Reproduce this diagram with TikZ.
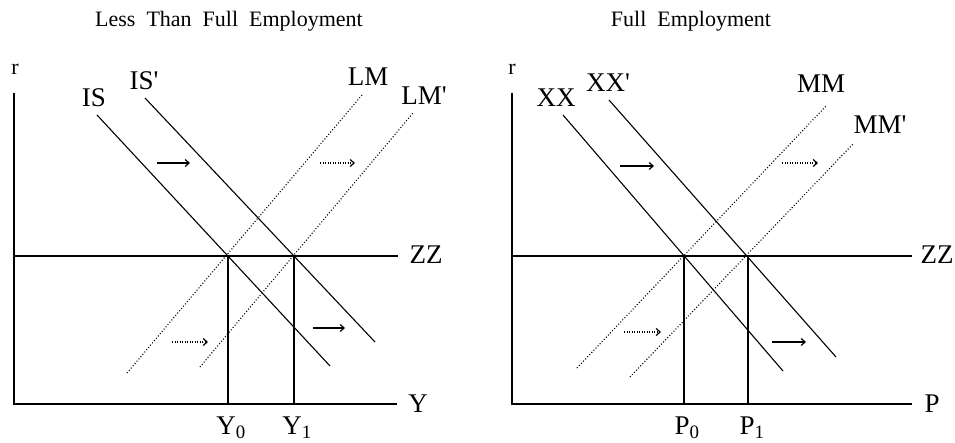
\documentclass[tikz,border=0pt]{standalone}
\usepackage{fontspec}
\setmainfont{Liberation Serif}
\usepackage{tikz}
\usetikzlibrary{arrows.meta}
\tikzset{
    axis/.style={line width=1.8pt, black},
    curve/.style={line width=1.1pt, black},
    shifted/.style={line width=1.1pt, black, dash pattern=on 1pt off 2pt},
    guide/.style={line width=1.8pt, black},
    move/.style={-{Straight Barb[length=4pt,width=7pt]}, line width=1.2pt},
    movedot/.style={move, dash pattern=on 1pt off 1.5pt},
    lbl/.style={font=\fontsize{27}{30}\selectfont, inner sep=0pt},
    heading/.style={font=\fontsize{22}{26}\selectfont, inner sep=0pt}
}

\begin{document}
\begin{tikzpicture}[x=1pt, y=-1pt]
  \useasboundingbox (0,0) rectangle (955,443);

  % Left panel: Less Than Full Employment
  \node[heading] (titleL) at (229,21) {Less\ \ Than\ \ Full\ \ Employment};
  \node[lbl, font=\fontsize{22}{24}\selectfont] (rL) at (15,69) {r};
  \coordinate (lTop) at (14,93);
  \coordinate (lO) at (14,404);
  \coordinate (lEnd) at (397,404);
  \coordinate (lZa) at (14,256);
  \coordinate (lZb) at (398,256);
  \node[lbl] (yL) at (418,404) {Y};
  \node[lbl] (zzL) at (426,255) {ZZ};
  \draw[axis] (lTop) -- (lO) -- (lEnd);
  \draw[guide] (lZa) -- (lZb);

  % equilibrium points and output levels
  \coordinate (eY0) at (228,256);
  \coordinate (eY1) at (294,256);
  \coordinate (bY0) at (228,404);
  \coordinate (bY1) at (294,404);
  \node[lbl] (y0) at (231,428) {Y\textsubscript{0}};
  \node[lbl] (y1) at (297,428) {Y\textsubscript{1}};
  \draw[guide] (eY0) -- (bY0);
  \draw[guide] (eY1) -- (bY1);

  % IS curves
  \coordinate (isA) at (97,115);
  \coordinate (isB) at (330,366);
  \coordinate (isPA) at (145,98);
  \coordinate (isPB) at (375,342);
  \node[lbl] (isL) at (94,98) {IS};
  \node[lbl] (isPL) at (144,81) {IS\textquotesingle};
  \draw[curve] (isA) -- (isB);
  \draw[curve] (isPA) -- (isPB);

  % LM curves
  \coordinate (lmA) at (127,373);
  \coordinate (lmB) at (362,95);
  \coordinate (lmPA) at (200,367);
  \coordinate (lmPB) at (413,113);
  \node[lbl] (lmL) at (368,77) {LM};
  \node[lbl] (lmPL) at (424,96) {LM\textquotesingle};
  \draw[shifted] (lmA) -- (lmB);
  \draw[shifted] (lmPA) -- (lmPB);

  % shift arrows
  \coordinate (sa1) at (157,163);
  \coordinate (sb1) at (190,163);
  \coordinate (sa2) at (313,328);
  \coordinate (sb2) at (345,328);
  \coordinate (da1) at (320,163);
  \coordinate (db1) at (355,163);
  \coordinate (da2) at (172,342);
  \coordinate (db2) at (208,342);
  \draw[move] (sa1) -- (sb1);
  \draw[move] (sa2) -- (sb2);
  \draw[movedot] (da1) -- (db1);
  \draw[movedot] (da2) -- (db2);

  % Right panel: Full Employment
  \node[heading] (titleR) at (691,21) {Full\ \ Employment};
  \node[lbl, font=\fontsize{22}{24}\selectfont] (rR) at (512,69) {r};
  \coordinate (rTop) at (512,93);
  \coordinate (rO) at (512,404);
  \coordinate (rEnd) at (912,404);
  \coordinate (rZa) at (512,256);
  \coordinate (rZb) at (912,256);
  \node[lbl] (pR) at (932,404) {P};
  \node[lbl] (zzR) at (937,255) {ZZ};
  \draw[axis] (rTop) -- (rO) -- (rEnd);
  \draw[guide] (rZa) -- (rZb);

  % equilibrium points and price levels
  \coordinate (eP0) at (684,256);
  \coordinate (eP1) at (748,256);
  \coordinate (bP0) at (684,404);
  \coordinate (bP1) at (748,404);
  \node[lbl] (p0) at (687,428) {P\textsubscript{0}};
  \node[lbl] (p1) at (752,428) {P\textsubscript{1}};
  \draw[guide] (eP0) -- (bP0);
  \draw[guide] (eP1) -- (bP1);

  % XX curves
  \coordinate (xxA) at (563,115);
  \coordinate (xxB) at (783,371);
  \coordinate (xxPA) at (609,100);
  \coordinate (xxPB) at (836,357);
  \node[lbl] (xxL) at (556,98) {XX};
  \node[lbl] (xxPL) at (608,83) {XX\textquotesingle};
  \draw[curve] (xxA) -- (xxB);
  \draw[curve] (xxPA) -- (xxPB);

  % MM curves
  \coordinate (mmA) at (577,368);
  \coordinate (mmB) at (827,105);
  \coordinate (mmPA) at (630,377);
  \coordinate (mmPB) at (853,144);
  \node[lbl] (mmL) at (821,84) {MM};
  \node[lbl] (mmPL) at (880,125) {MM\textquotesingle};
  \draw[shifted] (mmA) -- (mmB);
  \draw[shifted] (mmPA) -- (mmPB);

  % shift arrows
  \coordinate (sa3) at (620,166);
  \coordinate (sb3) at (654,166);
  \coordinate (sa4) at (772,342);
  \coordinate (sb4) at (806,342);
  \coordinate (da3) at (782,163);
  \coordinate (db3) at (818,163);
  \coordinate (da4) at (624,332);
  \coordinate (db4) at (661,332);
  \draw[move] (sa3) -- (sb3);
  \draw[move] (sa4) -- (sb4);
  \draw[movedot] (da3) -- (db3);
  \draw[movedot] (da4) -- (db4);
\end{tikzpicture}
\end{document}
